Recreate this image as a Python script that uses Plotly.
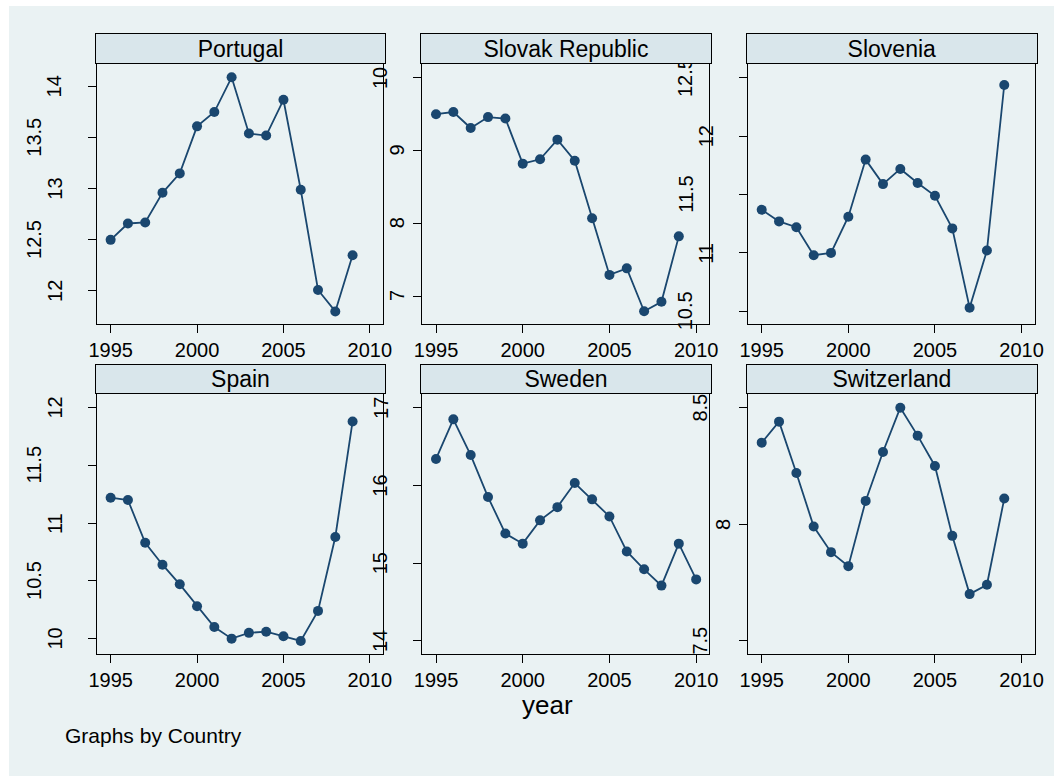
import plotly.graph_objects as go

# data
countries = ["Portugal", "Slovak Republic", "Slovenia", "Spain", "Sweden", "Switzerland"]

years = [1995, 1996, 1997, 1998, 1999, 2000, 2001, 2002, 2003, 2004,
         2005, 2006, 2007, 2008, 2009]
years_sweden = [1995, 1996, 1997, 1998, 1999, 2000, 2001, 2002, 2003, 2004,
                2005, 2006, 2007, 2008, 2009, 2010]

portugal = [12.50, 12.66, 12.67, 12.96, 13.15, 13.61, 13.75, 14.09, 13.54, 13.52,
            13.87, 12.99, 12.01, 11.80, 12.35]
slovak = [9.50, 9.53, 9.31, 9.46, 9.44, 8.82, 8.88, 9.15, 8.86, 8.07,
          7.29, 7.38, 6.79, 6.92, 7.82]
slovenia = [11.37, 11.27, 11.22, 10.98, 11.00, 11.31, 11.80, 11.59, 11.72, 11.60,
            11.49, 11.21, 10.53, 11.02, 12.44]
spain = [11.22, 11.20, 10.83, 10.64, 10.47, 10.28, 10.10, 10.00, 10.05, 10.06,
         10.02, 9.98, 10.24, 10.88, 11.88]
sweden = [16.34, 16.85, 16.39, 15.85, 15.38, 15.25, 15.55, 15.72, 16.03, 15.82,
          15.60, 15.15, 14.92, 14.71, 15.25, 14.79]
switzerland = [8.35, 8.44, 8.22, 7.99, 7.88, 7.82, 8.10, 8.31, 8.50, 8.38,
               8.25, 7.95, 7.70, 7.74, 8.11]

x_ticks = [1995, 2000, 2005, 2010]
y_ticks = {
    "Portugal": ["12", "12.5", "13", "13.5", "14"],
    "Slovak Republic": ["7", "8", "9", "10"],
    "Slovenia": ["10.5", "11", "11.5", "12", "12.5"],
    "Spain": ["10", "10.5", "11", "11.5", "12"],
    "Sweden": ["14", "15", "16", "17"],
    "Switzerland": ["7.5", "8", "8.5"],
}

series = {
    "Portugal": (years, portugal),
    "Slovak Republic": (years, slovak),
    "Slovenia": (years, slovenia),
    "Spain": (years, spain),
    "Sweden": (years_sweden, sweden),
    "Switzerland": (years, switzerland),
}

# layout in pixels of the target picture (1063 x 776)
W, H = 1063, 776
COLS = [(97, 383), (422.3, 709.3), (748, 1034.7)]
ROWS = [(33, 64, 324), (363.3, 393.7, 654)]  # strip top, plot top, plot bottom
X_RANGE = [1994.22, 2010.77]
Y_RANGES = {
    "Portugal": [11.677, 14.22],
    "Slovak Republic": [6.615, 10.19],
    "Slovenia": [10.39, 12.62],
    "Spain": [9.867, 12.12],
    "Sweden": [13.83, 17.18],
    "Switzerland": [7.443, 8.56],
}

# the snapshot squeezes the page sideways a little, undo that
SQUEEZE, OFFSET = 0.983, 8.85

NAVY = "#1a476f"
BG = "#eaf2f3"
STRIP = "#d9e6eb"
FONT = "Liberation Sans, Arial, sans-serif"
TICK_SIZE = 20

# distance of a rotated y label centre from the axis, by label length
LABEL_GAP = {1: 25, 2: 41.5, 3: 47.5, 4: 62}


def fx(px):
    return min(max((px - OFFSET) / SQUEEZE / W, 0), 1)


def fy(py):
    return 1 - py / H


fig = go.Figure()
shapes = [dict(type="rect", xref="paper", yref="paper", x0=fx(5), x1=1, y0=0, y1=fy(6),
               fillcolor=BG, line=dict(width=0), layer="below")]
tick_notes = []
strip_notes = []
layout = {}

for i, country in enumerate(countries):
    r, c = divmod(i, 3)
    n = "" if i == 0 else str(i + 1)
    x0, x1 = COLS[c]
    s_top, p_top, p_bot = ROWS[r]
    xs, ys = series[country]

    fig.add_trace(go.Scatter(
        x=xs, y=ys, mode="lines+markers", xaxis="x" + n, yaxis="y" + n,
        line=dict(color=NAVY, width=1.8),
        marker=dict(color=NAVY, size=10),
        showlegend=False, hoverinfo="x+y",
    ))

    layout["xaxis" + n] = dict(
        domain=[fx(x0), fx(x1)], anchor="y" + n, range=X_RANGE,
        tickvals=x_ticks, ticks="outside", ticklen=8, tickcolor="black",
        showgrid=False, zeroline=False, showline=True, mirror=True,
        linecolor="black", linewidth=1,
        tickfont=dict(family=FONT, size=TICK_SIZE, color="black"),
    )
    layout["yaxis" + n] = dict(
        domain=[fy(p_bot), fy(p_top)], anchor="x" + n,
        range=Y_RANGES[country],
        tickvals=[float(t) for t in y_ticks[country]], showticklabels=False,
        ticks="outside", ticklen=8, tickcolor="black",
        showgrid=True, gridcolor=BG, gridwidth=1.5, zeroline=False,
        showline=True, mirror=True, linecolor="black", linewidth=1,
    )

    for t in y_ticks[country]:
        tick_notes.append(dict(
            xref="x" + n + " domain", yref="y" + n, x=0, y=float(t),
            text=t, textangle=-90, showarrow=False,
            xanchor="center", yanchor="middle", xshift=-LABEL_GAP[len(t)] / SQUEEZE,
            font=dict(family=FONT, size=TICK_SIZE, color="black"),
        ))

    # strip title, drawn as a boxed annotation so it sits over the tick labels
    strip_notes.append(dict(
        xref="paper", yref="paper", x=fx((x0 + x1) / 2), y=fy((s_top + p_top) / 2),
        text=country, showarrow=False, xanchor="center", yanchor="middle",
        width=(x1 - x0) / SQUEEZE - 2, height=p_top - s_top - 2,
        bgcolor=STRIP, bordercolor="black", borderwidth=1, borderpad=0,
        font=dict(family=FONT, size=23, color="black"),
    ))

annotations = tick_notes + strip_notes
annotations.append(dict(
    xref="paper", yref="paper", x=fx(547), y=fy(705), text="year", showarrow=False,
    xanchor="center", yanchor="middle", font=dict(family=FONT, size=26, color="black"),
))
annotations.append(dict(
    xref="paper", yref="paper", x=fx(63), y=fy(735), text="Graphs by Country",
    showarrow=False, xanchor="left", yanchor="middle",
    font=dict(family=FONT, size=21, color="black"),
))

fig.update_layout(
    width=W, height=H, margin=dict(l=0, r=0, t=0, b=0),
    paper_bgcolor="white", plot_bgcolor="white",
    shapes=shapes, annotations=annotations,
    font=dict(family=FONT, size=TICK_SIZE, color="black"),
    **layout,
)

# page body margin / scrollbars would push the figure off the window
page_fix = ("document.body.style.margin='0';"
            "document.body.style.overflow='hidden';"
            "document.documentElement.style.overflow='hidden';")
fig.write_html("out.html", post_script=page_fix, config=dict(displayModeBar=False))
